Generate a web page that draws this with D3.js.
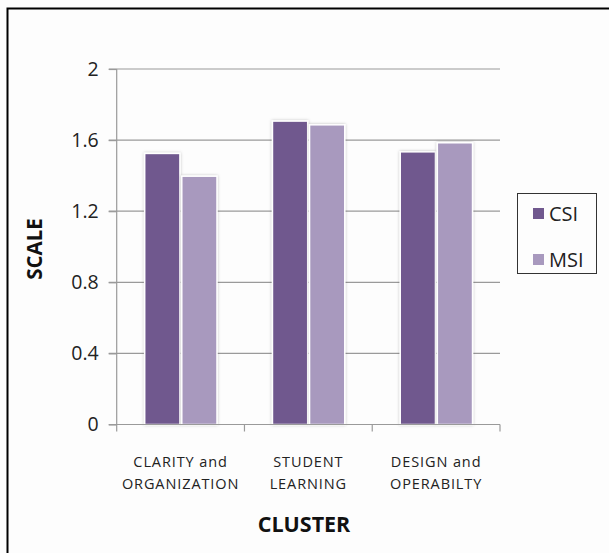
<!DOCTYPE html>
<html><head><meta charset="utf-8">
<script src="https://cdn.jsdelivr.net/npm/d3@7"></script>
<style>body{margin:0;background:#fff;} text{font-family:"Open Sans",sans-serif;}</style>
</head><body>
<script>
const categories = [["CLARITY and","ORGANIZATION"],["STUDENT","LEARNING"],["DESIGN and","OPERABILTY"]];
const seriesNames = ["CSI","MSI"];
const csiValues = [1.525, 1.707, 1.534];
const msiValues = [1.397, 1.686, 1.585];
const yTicks = [0, 0.4, 0.8, 1.2, 1.6, 2];
const colors = ["#70588E", "#A899BE"];

const W = 609, H = 553;
const svg = d3.select("body").append("svg").attr("width", W).attr("height", H);
svg.append("rect").attr("width", W).attr("height", H).attr("fill", "#fdfdfd");
svg.append("rect").attr("x", 7.5).attr("y", 8.5).attr("width", 620).attr("height", 560)
  .attr("fill", "#fdfdfd").attr("stroke", "#000").attr("stroke-width", 2);

const mLeft = 116.7, mRight = 500, mTop = 69, mBottom = 424.5;
const x0 = d3.scaleBand().domain(d3.range(categories.length)).range([mLeft, mRight]).paddingInner(0).paddingOuter(0);
const x1 = d3.scaleBand().domain(seriesNames).range([28, 128.3 - 28]).paddingInner(0.05);
const y = d3.scaleLinear().domain([0, 2]).range([mBottom, mTop]);

// grid
svg.append("g").selectAll("line").data(yTicks.slice(1)).join("line")
  .attr("x1", mLeft - 8).attr("x2", mRight).attr("y1", d => y(d)).attr("y2", d => y(d))
  .attr("stroke", "#9a9a9a").attr("stroke-width", 1.2);

// y axis
const yAxis = d3.axisLeft(y).tickValues(yTicks).tickSize(8).tickPadding(10).tickFormat(d => d === 0 ? "0" : d3.format("")(d));
const gy = svg.append("g").attr("transform", `translate(${mLeft},0)`).call(yAxis);
gy.select(".domain").attr("stroke", "#9a9a9a").attr("stroke-width", 1.2).attr("d", `M0,${mTop}V${mBottom}`);
gy.selectAll(".tick line").attr("stroke", "#9a9a9a").attr("stroke-width", 1.2);
gy.selectAll(".tick text").attr("font-size", 19.5).attr("fill", "#222").attr("font-family", "Open Sans");

// bars
const data = categories.map((c, i) => ({i, vals: [csiValues[i], msiValues[i]]}));
const defs = svg.append("defs");
const f = defs.append("filter").attr("id", "sh").attr("x", "-20%").attr("y", "-20%").attr("width", "140%").attr("height", "140%");
f.append("feDropShadow").attr("dx", 0).attr("dy", 0).attr("stdDeviation", 1.5).attr("flood-color", "#000").attr("flood-opacity", 0.25);
const groups = svg.append("g").selectAll("g").data(data).join("g")
  .attr("transform", d => `translate(${x0(d.i)},0)`);
groups.selectAll("rect").data(d => d.vals.map((v, k) => ({k, v}))).join("rect")
  .attr("x", d => x1(seriesNames[d.k])).attr("width", x1.bandwidth())
  .attr("y", d => y(d.v)).attr("height", d => y(0) - y(d.v))
  .attr("fill", d => colors[d.k]).attr("stroke", "#fff").attr("stroke-width", 1.5)
  .attr("filter", "url(#sh)");

// x axis
const gx = svg.append("g").attr("transform", `translate(0,${mBottom})`);
gx.append("line").attr("x1", mLeft - 8).attr("x2", mRight).attr("stroke", "#9a9a9a").attr("stroke-width", 1.2);
const tickXs = d3.range(categories.length + 1).map(i => i < categories.length ? x0(i) : mRight);
gx.selectAll(".t").data(tickXs).join("line").attr("x1", d => d).attr("x2", d => d).attr("y1", 0).attr("y2", 7)
  .attr("stroke", "#9a9a9a").attr("stroke-width", 1.2);
gx.selectAll(".lab").data(categories).join("text")
  .attr("text-anchor", "middle").attr("font-size", 14.5).attr("fill", "#222").attr("letter-spacing", 0.9)
  .each(function(d, i) {
    const t = d3.select(this);
    d.forEach((line, j) => t.append("tspan").attr("x", x0(i) + x0.bandwidth() / 2).attr("y", 42 + j * 22).text(line));
  });

// axis titles
svg.append("text").attr("x", 304).attr("y", 532).attr("text-anchor", "middle")
  .attr("font-size", 21.5).attr("font-weight", "bold").attr("fill", "#111").text("CLUSTER");
svg.append("text").attr("transform", "translate(42,249) rotate(-90)").attr("text-anchor", "middle")
  .attr("font-size", 20.5).attr("font-weight", "bold").attr("fill", "#111").text("SCALE");

// legend
const lg = svg.append("g");
lg.append("rect").attr("x", 517.5).attr("y", 193.5).attr("width", 79).attr("height", 80)
  .attr("fill", "#fdfdfd").attr("stroke", "#333").attr("stroke-width", 1);
seriesNames.forEach((s, k) => {
  lg.append("rect").attr("x", 533).attr("y", 208 + k * 46).attr("width", 11).attr("height", 11).attr("fill", colors[k]);
  lg.append("text").attr("x", 549).attr("y", 221 + k * 46).attr("font-size", 20).attr("fill", "#222").text(s);
});
</script>
</body></html>
